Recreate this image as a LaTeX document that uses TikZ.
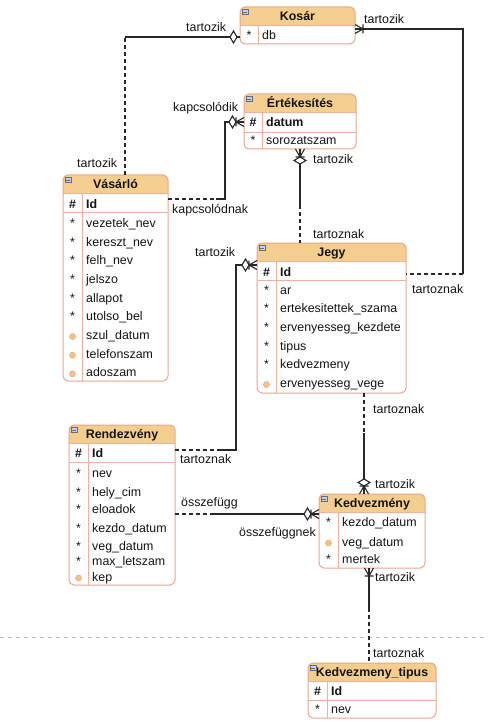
\documentclass[tikz,border=0pt]{standalone}
\usepackage{fontspec}
\setmainfont{Liberation Sans}
\definecolor{hdrc}{RGB}{244,206,142}
\definecolor{entc}{RGB}{234,165,143}
\definecolor{sepc}{RGB}{238,178,158}
\definecolor{dotf}{RGB}{243,193,140}
\definecolor{dotd}{RGB}{226,170,120}
\definecolor{txt}{RGB}{20,20,20}
\definecolor{relc}{RGB}{40,40,40}
\definecolor{minif}{RGB}{200,208,222}
\definecolor{minid}{RGB}{100,108,128}
\definecolor{divc}{RGB}{190,190,190}
\newcommand\fnt{\fontsize{12.4}{14}\selectfont}
\newcommand\entity[7]{%
 \def\curname{#1}\def\curx{#2}\def\cury{#3}\def\curw{#4}\def\cursep{#6}%
 \node[entnode, minimum width=#4pt, minimum height=#5pt, anchor=north west] (#1) at (#2,#3) {};
 \begin{scope}
  \clip[rounded corners=5pt] (#1.north west) rectangle (#1.south east);
  \fill[white] (#1.north west) rectangle (#1.south east);
  \fill[hdrc] (#1.north west) rectangle ([yshift=-18.5pt]#1.north east);
  \draw[sepline] ([yshift=-18.5pt]#1.north west) -- ([yshift=-18.5pt]#1.north east);
  \draw[sepline] (#6,#3+18.5) -- (#6,#3+#5);
 \end{scope}
 \draw[entline, rounded corners=5pt] (#1.north west) rectangle (#1.south east);
 \node[ttl] (#1-t) at ([yshift=-10.5pt]#1.north) {#7};
 \node[mini] (#1-m) at (#2+5,#3+5) {};
}
\newcommand\rkey[4]{%
 \node[symbb] (\curname-s#1) at ({(\curx+\cursep)/2},#2) {\#};
 \node[fldb] (\curname-f#1) at (\cursep+4,#2) {#3};
 \draw[sepline] (\curx,#4) -- (\curx+\curw,#4);}
\newcommand\rstar[3]{%
 \node[symb] (\curname-s#1) at ({(\curx+\cursep)/2},#2) {*};
 \node[fld] (\curname-f#1) at (\cursep+4,#2) {#3};}
\newcommand\rdot[3]{%
 \node[dotn] (\curname-s#1) at ({(\curx+\cursep)/2},#2) {};
 \node[fld] (\curname-f#1) at (\cursep+4,#2) {#3};}
\newcommand\mcrow[2]{%
 \begin{scope}[shift={(#1)},rotate=#2]
  \draw[rel] (0pt,4.5pt) -- (8pt,0pt) -- (0pt,-4.5pt) (0pt,0pt) -- (8pt,0pt) (8pt,4.5pt) -- (8pt,-4.5pt);
 \end{scope}}
\newcommand\mdia[3]{%
 \begin{scope}[shift={(#1)},rotate=#2]
  \filldraw[rel, fill=white] (#3pt,0pt) -- (#3pt+3.5pt,6pt) -- (#3pt+7pt,0pt) -- (#3pt+3.5pt,-6pt) -- cycle;
 \end{scope}}
\begin{document}
\begin{tikzpicture}[x=1pt,y=-1pt,font=\fnt,
 entnode/.style={rectangle, inner sep=0pt, outer sep=0pt, draw=none},
 entline/.style={draw=entc, line width=1pt},
 sepline/.style={draw=sepc, line width=0.8pt},
 ttl/.style={font=\fnt\bfseries, inner sep=0pt, text=txt, text height=8.5pt, text depth=2.5pt},
 fld/.style={anchor=west, inner sep=0pt, text height=8.5pt, text depth=2.5pt, text=txt},
 fldb/.style={fld, font=\fnt\bfseries},
 symb/.style={inner sep=0pt, text height=8.5pt, text depth=2.5pt, text=txt},
 symbb/.style={symb, font=\fnt\bfseries},
 dotn/.style={circle, fill=dotf, draw=dotd, line width=0.5pt, minimum size=6pt, inner sep=0pt},
 rel/.style={draw=relc, line width=1.1pt},
 dsh/.style={rel, dash pattern=on 4pt off 3pt},
 lbl/.style={anchor=west, inner sep=0pt, text height=8.5pt, text depth=2.5pt, text=txt},
 mini/.style={rectangle, minimum width=6pt, minimum height=5pt, inner sep=0pt, fill=minif, draw=minid, line width=0.5pt,
   path picture={\draw[minid, line width=0.7pt] ([xshift=1pt]path picture bounding box.west) -- ([xshift=-1pt]path picture bounding box.east);}}
]
\useasboundingbox (0,0) rectangle (487,727);
\fill[white] (0,0) rectangle (487,727);
% divider
\draw[divc, line width=0.8pt, dash pattern=on 4pt off 4pt] (0,637) coordinate (dl) -- (487,637) coordinate (dr);

% Kosar
\entity{kos}{240}{7}{115}{37}{258}{Kosár}
\rstar{1}{37}{db}
% Ertekesites
\entity{ert}{244}{94}{112}{55}{262}{Értékesítés}
\rkey{0}{123.7}{datum}{132}
\rstar{1}{142}{sorozatszam}
% Vasarlo
\entity{vas}{63}{175}{105}{206}{82}{Vásárló}
\rkey{0}{205.3}{Id}{212}
\rstar{1}{224.3}{vezetek\_nev}
\rstar{2}{243}{kereszt\_nev}
\rstar{3}{261.7}{felh\_nev}
\rstar{4}{280.4}{jelszo}
\rstar{5}{299.1}{allapot}
\rstar{6}{317.8}{utolso\_bel}
\rdot{7}{336.5}{szul\_datum}
\rdot{8}{355.2}{telefonszam}
\rdot{9}{373.9}{adoszam}
% Jegy
\entity{jegy}{257}{243}{149}{150}{276}{Jegy}
\rkey{0}{273}{Id}{280}
\rstar{1}{291}{ar}
\rstar{2}{309.7}{ertekesitettek\_szama}
\rstar{3}{328.4}{ervenyesseg\_kezdete}
\rstar{4}{347.1}{tipus}
\rstar{5}{365.8}{kedvezmeny}
\rdot{6}{384.5}{ervenyesseg\_vege}
% Rendezveny
\entity{rend}{69}{425}{106}{160}{88}{Rendezvény}
\rkey{0}{454.7}{Id}{462}
\rstar{1}{474.5}{nev}
\rstar{2}{493}{hely\_cim}
\rstar{3}{510.3}{eloadok}
\rstar{4}{529.7}{kezdo\_datum}
\rstar{5}{547}{veg\_datum}
\rstar{6}{562.7}{max\_letszam}
\rdot{7}{578}{kep}
% Kedvezmeny
\entity{kedv}{319}{494}{106}{74}{338}{Kedvezmény}
\rstar{1}{523.7}{kezdo\_datum}
\rdot{2}{543}{veg\_datum}
\rstar{3}{560.3}{mertek}
% Kedvezmeny_tipus
\entity{ktip}{308}{663}{128}{55}{327}{Kedvezmeny\_tipus}
\rkey{0}{692}{Id}{700}
\rstar{1}{710.3}{nev}

% C1 Vasarlo - Kosar
\coordinate (b1) at (125,37);
\draw[dsh] (vas.north -| b1) -- (b1);
\draw[rel] (b1) -- (b1 -| kos.west) coordinate (e1);
% C2 Jegy - Kosar
\coordinate (b2a) at (463,29);
\coordinate (b2b) at (463,274);
\draw[rel] (b2a -| kos.east) coordinate (e2) -- (b2a) -- (b2b);
\draw[dsh] (b2b) -- (b2b -| jegy.east);
% C3 Vasarlo - Ertekesites
\coordinate (b3a) at (216,199);
\coordinate (b3b) at (225,199);
\coordinate (b3c) at (225,122);
\draw[dsh] (b3a -| vas.east) -- (b3a);
\draw[rel] (b3a) -- (b3b) -- (b3c) -- (b3c -| ert.west) coordinate (e3);
% C4 Ertekesites - Jegy
\coordinate (b4) at (300,205);
\draw[rel] (b4 |- ert.south) coordinate (e4) -- (b4);
\draw[dsh] (b4) -- (b4 |- jegy.north);
% C5 Rendezveny - Jegy
\coordinate (b5a) at (218,450);
\coordinate (b5b) at (236,450);
\coordinate (b5c) at (236,265);
\draw[dsh] (b5a -| rend.east) -- (b5a);
\draw[rel] (b5a) -- (b5b) -- (b5c) -- (b5c -| jegy.west) coordinate (e5);
% C6 Jegy - Kedvezmeny
\coordinate (b6) at (364,433);
\draw[dsh] (b6 |- jegy.south) -- (b6);
\draw[rel] (b6) -- (b6 |- kedv.north) coordinate (e6);
% C7 Rendezveny - Kedvezmeny
\coordinate (b7) at (213,514);
\draw[dsh] (b7 -| rend.east) -- (b7);
\draw[rel] (b7) -- (b7 -| kedv.west) coordinate (e7);
% C8 Kedvezmeny - Kedvezmeny_tipus
\coordinate (b8) at (369,608);
\draw[rel] (b8 |- kedv.south) coordinate (e8) -- (b8);
\draw[dsh] (b8) -- (b8 |- ktip.north);

% end markers
\mdia{e1}{180}{3}
\mcrow{e2}{0}
\mcrow{e3}{180}\mdia{e3}{180}{8}
\mcrow{e4}{-90}\mdia{e4}{-90}{8}
\mcrow{e5}{180}\mdia{e5}{180}{8}
\mcrow{e6}{90}\mdia{e6}{90}{8}
\mcrow{e7}{180}\mdia{e7}{180}{8}
\mcrow{e8}{-90}

% labels
\node[lbl] (l1) at (186,28.5) {tartozik};
\node[lbl] (l2) at (77,164.5) {tartozik};
\node[lbl] (l3) at (364,20.5) {tartozik};
\node[lbl] (l4) at (412,290.5) {tartoznak};
\node[lbl] (l5) at (173,108.5) {kapcsolódik};
\node[lbl] (l6) at (172,210.5) {kapcsolódnak};
\node[lbl] (l7) at (313,160.5) {tartozik};
\node[lbl] (l8) at (313,235.5) {tartoznak};
\node[lbl] (l9) at (195,253.5) {tartozik};
\node[lbl] (l10) at (180,460.5) {tartoznak};
\node[lbl] (l11) at (373,410.5) {tartoznak};
\node[lbl] (l12) at (375,485.5) {tartozik};
\node[lbl] (l13) at (181,503.5) {összefügg};
\node[lbl] (l14) at (239,533.5) {összefüggnek};
\node[lbl] (l15) at (375,578.5) {tartozik};
\node[lbl] (l16) at (373,654.5) {tartoznak};
\end{tikzpicture}
\end{document}
